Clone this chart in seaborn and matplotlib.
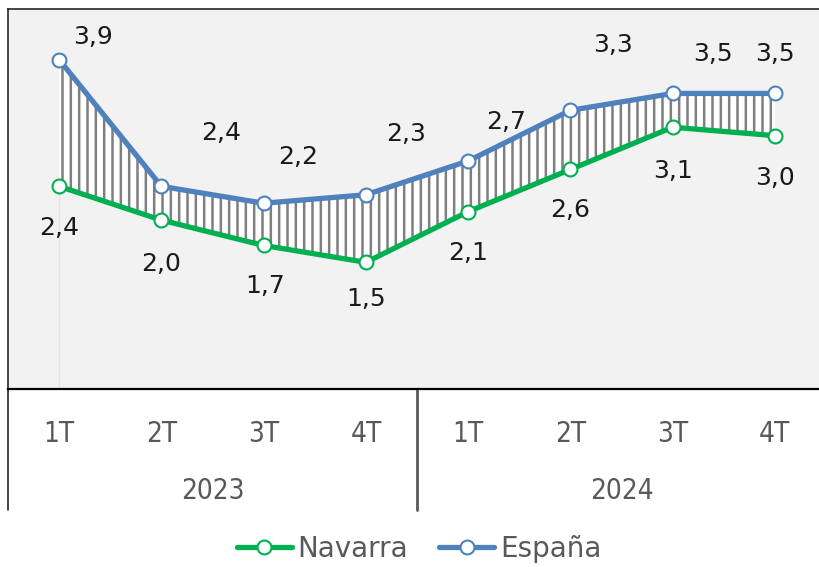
import matplotlib
matplotlib.use('Agg')
import matplotlib.pyplot as plt
import seaborn as sns
import pandas as pd

# ---- data ----
quarters = ['1T', '2T', '3T', '4T', '1T', '2T', '3T', '4T']
years = ['2023', '2024']
navarra = [2.4, 2.0, 1.7, 1.5, 2.1, 2.6, 3.1, 3.0]
espana = [3.9, 2.4, 2.2, 2.3, 2.7, 3.3, 3.5, 3.5]

# label offsets in pixels (style, not data)
esp_off = [(34, 23), (60, 53), (34, 46), (40, 61), (38, 39), (43, 65), (40, 39), (0, 39)]
nav_off = [(0, -42), (0, -44), (2, -41), (0, -37), (0, -41), (0, -41), (0, -44), (0, -42)]

sns.set_theme(style='white')
plt.rcParams['font.family'] = ['DejaVu Sans']
plt.rcParams['hatch.color'] = '#7f7f7f'
plt.rcParams['hatch.linewidth'] = 1.8

W, H = 819, 567
fig = plt.figure(figsize=(W / 100, H / 100), dpi=100)
ax = fig.add_axes([8 / W, (H - 389) / H, (826 - 8) / W, (389 - 9) / H])
ax.set_facecolor('#f2f2f2')

x = list(range(len(quarters)))
df = pd.DataFrame({'x': x, 'Navarra': navarra, 'España': espana})

green = '#00b050'
blue = '#4f81bd'

# faint vertical line at first category
ax.vlines(x[0], 0, navarra[0], color='#e3e3e3', lw=1, zorder=1)

ax.fill_between(df['x'], df['Navarra'], df['España'], facecolor='white',
                edgecolor='#7f7f7f', hatch='||', linewidth=0, zorder=2)

sns.lineplot(data=df, x='x', y='España', ax=ax, color=blue, lw=3.8,
             marker='o', markersize=10, markerfacecolor='white',
             markeredgecolor=blue, markeredgewidth=1.5, label='España', zorder=4)
sns.lineplot(data=df, x='x', y='Navarra', ax=ax, color=green, lw=3.8,
             marker='o', markersize=10, markerfacecolor='white',
             markeredgecolor=green, markeredgewidth=1.5, label='Navarra', zorder=5)

ax.get_legend().remove()

def fmt(v):
    return f'{v:.1f}'.replace('.', ',')

for i, v in enumerate(espana):
    ax.annotate(fmt(v), (i, v), xytext=esp_off[i], textcoords='offset pixels',
                ha='center', va='center', fontsize=18, color='#1a1a1a', zorder=6)
for i, v in enumerate(navarra):
    ax.annotate(fmt(v), (i, v), xytext=nav_off[i], textcoords='offset pixels',
                ha='center', va='center', fontsize=18, color='#1a1a1a', zorder=6)

ax.set_xlim(-0.5, 7.5)
ax.set_ylim(0, 4.5)
ax.set_yticks([])
ax.set_xlabel('')
ax.set_ylabel('')
ax.set_xticks(x)
ax.set_xticklabels(quarters, fontsize=20, color='#595959', fontstretch='condensed')
ax.tick_params(axis='x', length=0, pad=22)

for s in ['left', 'top', 'right']:
    ax.spines[s].set_color('#262626')
    ax.spines[s].set_linewidth(1.2)
ax.spines['bottom'].set_color('#000000')
ax.spines['bottom'].set_linewidth(1.6)

trans = ax.get_xaxis_transform()
ybot = (389 - 510) / 380
ax.plot([-0.5, -0.5], [0, ybot], transform=trans, clip_on=False, color='#262626', lw=1.2)
ax.plot([3.5, 3.5], [0, ybot], transform=trans, clip_on=False, color='#595959', lw=2)

yyear = (389 - 491) / 380
for k, yr in enumerate(years):
    ax.text(1.5 + 4 * k, yyear, yr, transform=trans, ha='center', va='center',
            fontsize=20, color='#595959', fontstretch='condensed')

handles, labels = ax.get_legend_handles_labels()
order = [labels.index('Navarra'), labels.index('España')]
fig.legend([handles[i] for i in order], [labels[i] for i in order],
           loc='center', bbox_to_anchor=(419 / W, 1 - 549 / H), ncol=2,
           frameon=False, fontsize=20, handlelength=2.0, handletextpad=0.2,
           columnspacing=1.1, labelcolor='#595959')

fig.savefig('out.png', dpi=100)
